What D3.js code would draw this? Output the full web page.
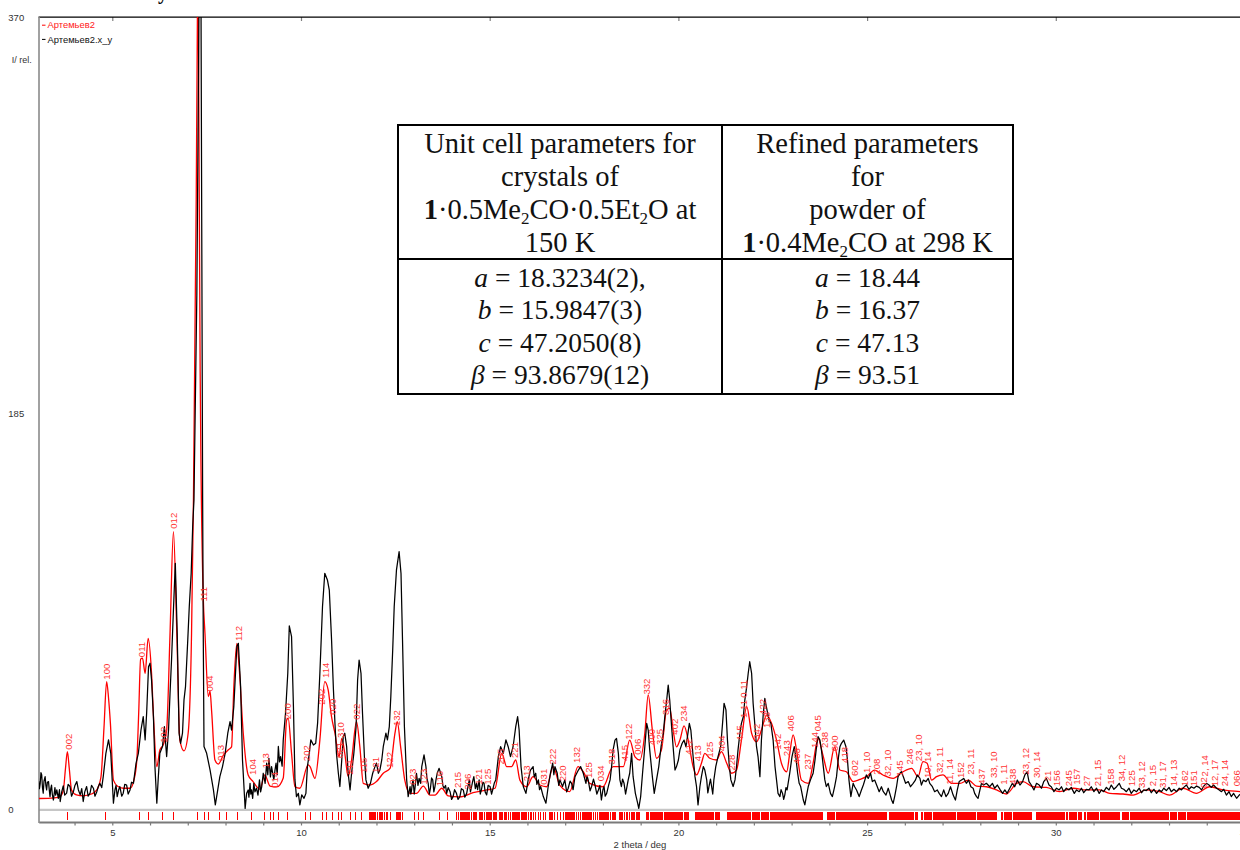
<!DOCTYPE html>
<html lang="ru">
<head>
<meta charset="utf-8">
<title>Артемьев2</title>
<script src="https://cdn.jsdelivr.net/npm/d3@7/dist/d3.min.js"></script>
<style>
  html, body { margin: 0; padding: 0; background: #fff; }
  svg { display: block; }
  text { font-family: "Liberation Sans", Arial, sans-serif; }
  .tbl text { font-family: "Liberation Serif", "Times New Roman", serif; }
</style>
</head>
<body>
<svg id="chart" width="1240" height="850"></svg>
<script>
// ---- pattern data: [2theta (deg), intensity (rel.)] ----
const seriesNames = ["Артемьев2", "Артемьев2.x_y"];

// calculated profile
const calcPattern = [[3.05,4.9],[3.3,5.0],[3.6,5.6],[3.70,8.5],[3.76,19],[3.81,26.8],[3.86,19],[3.92,8.9],[4.05,6.6],[4.23,6.2],[4.45,7.0],[4.59,8.9],[4.70,15],[4.78,38],[4.85,59.5],[4.90,52],[4.95,40],[5.03,13.5],[5.15,10.5],[5.29,9.7],[5.47,9.7],[5.58,14],[5.65,22.9],[5.70,45],[5.75,70],[5.80,70.5],[5.87,63.4],[5.95,79.7],[6.04,63.4],[6.10,40],[6.18,19.8],[6.26,27.6],[6.35,30],[6.44,36.9],[6.53,82],[6.62,129.6],[6.71,82],[6.79,32.2],[6.90,27.2],[7.01,35.4],[7.10,82],[7.15,144],[7.21,260],[7.255,370],[7.265,560],[7.28,370],[7.34,180],[7.41,99],[7.456,82],[7.544,52.5],[7.59,55],[7.633,45.5],[7.72,22.9],[7.81,21],[7.94,25],[8.07,27.6],[8.16,29],[8.22,57],[8.30,77.4],[8.36,66.5],[8.47,35.4],[8.60,15.9],[8.73,12.8],[8.91,9.3],[9.04,15.9],[9.18,10.7],[9.36,10.3],[9.53,14.5],[9.62,41.6],[9.66,42.4],[9.75,26],[9.84,10.4],[9.97,9.7],[10.19,20.6],[10.24,19.8],[10.37,14.3],[10.50,32.2],[10.63,59.5],[10.72,55.6],[10.81,43],[10.90,35.4],[11.01,24.4],[11.08,33],[11.16,26],[11.25,15.1],[11.34,22.9],[11.47,40.8],[11.56,29],[11.65,12],[11.83,11.2],[12.0,12.8],[12.18,16.7],[12.36,19],[12.49,35.4],[12.55,40.8],[12.64,29],[12.75,13.5],[12.89,7.3],[13.06,7.3],[13.24,10.7],[13.42,6.5],[13.55,6.5],[13.73,9.7],[13.90,6.1],[14.21,5.7],[14.56,7.6],[14.92,8.9],[15.14,9.7],[15.32,26],[15.45,19.8],[15.58,19.8],[15.69,22.9],[15.80,13.5],[15.98,10.4],[16.15,15.1],[16.33,11.2],[16.51,10.4],[16.68,19.8],[16.86,11],[17.12,8.1],[17.34,19.8],[17.48,17.4],[17.65,12],[18.0,10.4],[18.27,19.8],[18.54,19.8],[18.71,32.2],[18.85,24.4],[18.98,22.9],[19.11,35.4],[19.20,53.3],[19.31,36.9],[19.42,23.7],[19.55,27.6],[19.69,46.3],[19.77,47],[19.86,36.9],[19.95,29],[20.04,32.2],[20.15,38.8],[20.26,32.2],[20.39,19.8],[20.48,15.9],[20.61,21.4],[20.70,26],[20.83,23.7],[21.01,22.9],[21.14,26.8],[21.28,21.4],[21.41,16.7],[21.54,18.2],[21.67,32.2],[21.81,47.8],[21.94,35.4],[22.07,31.4],[22.20,36.9],[22.34,43.9],[22.47,40],[22.60,32.2],[22.73,21.4],[22.87,17.4],[22.95,26],[23.04,34.6],[23.13,27.6],[23.26,13.5],[23.44,12],[23.57,21.4],[23.70,33],[23.83,25.2],[23.97,16.7],[24.14,29],[24.28,18.2],[24.45,17.4],[24.63,12.8],[24.81,13.8],[24.98,15.1],[25.20,18.2],[25.42,15.9],[25.69,14.3],[25.95,17.4],[26.18,19],[26.35,15.1],[26.48,22.1],[26.59,21.4],[26.71,13.5],[26.84,15.1],[27.01,15.9],[27.24,12],[27.46,12],[27.68,13.5],[27.90,10.7],[28.16,10.4],[28.43,8.9],[28.69,7],[28.96,12],[29.13,12.8],[29.40,10.4],[29.75,10.1],[30.10,8.1],[30.46,9.7],[30.81,8.9],[31.16,8.9],[31.43,7.3],[31.78,7],[32.05,6.5],[32.40,8.9],[32.75,8.1],[33.01,6.5],[33.37,9.7],[33.72,7.3],[34.08,10.4],[34.43,8.9],[35.0,8]];

// measured profile
const obsPattern = [[3.05,13],[3.07,9.5],[3.09,12],[3.11,17],[3.13,15.9],[3.15,10],[3.17,7.4],[3.19,13],[3.22,15.1],[3.24,11],[3.26,8.9],[3.28,12.5],[3.31,12.8],[3.33,9],[3.35,5.8],[3.37,9.5],[3.39,11.2],[3.41,7],[3.44,4.2],[3.48,10],[3.50,6.5],[3.53,8.9],[3.57,5],[3.60,9],[3.62,3.5],[3.66,8],[3.70,10.8],[3.74,6.5],[3.79,7.4],[3.83,11.5],[3.88,10.5],[3.92,6],[3.97,8.1],[4.01,11],[4.06,12.8],[4.10,9],[4.15,6.6],[4.19,9.5],[4.23,3.5],[4.27,8],[4.32,10.5],[4.36,6],[4.41,7.4],[4.45,11],[4.50,9.7],[4.54,6],[4.59,8.1],[4.63,10.5],[4.67,12],[4.72,10],[4.76,15.1],[4.83,26],[4.90,32.3],[4.96,26],[5.03,2.7],[5.07,8.9],[5.10,11],[5.13,5.8],[5.17,9],[5.20,10.5],[5.25,6],[5.29,7.4],[5.33,11.5],[5.38,11.2],[5.42,7],[5.47,8.9],[5.51,12.5],[5.56,12],[5.63,21.4],[5.69,26],[5.76,36.9],[5.82,43.2],[5.87,32.3],[5.91,44.7],[5.96,66.5],[6.00,68.1],[6.04,60.3],[6.09,43.2],[6.13,19.8],[6.18,2.7],[6.22,15.1],[6.26,26],[6.33,29.2],[6.38,38.5],[6.44,24.5],[6.49,36.9],[6.53,54.1],[6.57,69.7],[6.62,93],[6.67,114.8],[6.72,82.1],[6.77,35.4],[6.81,30.7],[6.86,35.4],[6.90,51],[6.94,57.2],[7.00,79],[7.04,94.6],[7.09,110.1],[7.13,131.9],[7.164,144.4],[7.24,240],[7.30,380],[7.325,600],[7.35,380],[7.394,144.4],[7.41,82.1],[7.43,29.2],[7.50,26],[7.59,18.3],[7.68,8.9],[7.73,1.9],[7.78,7.4],[7.85,15.1],[7.92,19.8],[7.99,26],[8.06,35.4],[8.12,40.8],[8.16,36.9],[8.22,47.8],[8.30,75.9],[8.34,77.4],[8.40,57.2],[8.45,22.9],[8.52,0.3],[8.56,7.4],[8.60,8.9],[8.62,5.5],[8.65,12],[8.67,7],[8.69,8.9],[8.72,5],[8.75,12],[8.78,8],[8.82,9.7],[8.86,6.5],[8.90,13.6],[8.93,8],[8.96,10.5],[9.00,16.7],[9.05,12],[9.09,21.4],[9.12,16],[9.15,23.7],[9.19,15],[9.22,19.8],[9.28,13.6],[9.31,18],[9.34,21.4],[9.37,16],[9.40,29.2],[9.43,22],[9.46,24.5],[9.50,20],[9.53,32.3],[9.59,44.7],[9.65,63.4],[9.69,85.5],[9.75,80.5],[9.80,47.8],[9.84,13.6],[9.88,5.8],[9.93,7.3],[9.97,1.9],[10.02,6.6],[10.08,5.0],[10.13,7.3],[10.17,19.8],[10.22,26],[10.26,32.3],[10.33,29.9],[10.39,30.7],[10.44,40.1],[10.50,63.4],[10.57,94.6],[10.63,110.1],[10.70,107],[10.75,102.3],[10.81,79],[10.86,55.6],[10.90,40.1],[10.94,26],[10.99,16.7],[11.03,10.5],[11.08,22.9],[11.12,33.8],[11.16,35.4],[11.21,29.1],[11.25,16.7],[11.30,8.9],[11.34,16.7],[11.40,26],[11.46,38.5],[11.50,60.3],[11.54,69.6],[11.59,63.4],[11.63,44.7],[11.68,24.5],[11.72,13.6],[11.78,9.7],[11.84,12],[11.90,16.7],[11.96,19.8],[12.00,21.4],[12.05,16.7],[12.09,18.2],[12.14,22.9],[12.18,29.1],[12.25,35.4],[12.29,32.3],[12.34,38.5],[12.38,52.5],[12.43,74.3],[12.47,94.6],[12.53,111.7],[12.60,120.2],[12.65,110.1],[12.69,79],[12.74,38.5],[12.80,13.6],[12.84,5.8],[12.89,10.5],[12.91,7],[12.93,8.9],[12.95,12],[12.97,13.6],[13.00,7],[13.02,9.7],[13.06,16.7],[13.10,11],[13.13,14.3],[13.17,12],[13.20,19.8],[13.26,25.3],[13.31,19.8],[13.34,14],[13.37,12],[13.40,7],[13.43,9.7],[13.46,14.5],[13.49,13.6],[13.52,8],[13.55,10.5],[13.58,14],[13.61,16.7],[13.66,19],[13.73,15.1],[13.76,11],[13.79,9.7],[13.83,11],[13.86,7.3],[13.90,10],[13.95,8.1],[13.99,4.5],[14.03,5.8],[14.07,9],[14.12,7.3],[14.16,4.5],[14.21,5.8],[14.25,9.5],[14.30,8.9],[14.34,5.5],[14.39,7.3],[14.43,11],[14.46,13.6],[14.49,8],[14.52,10.5],[14.55,13],[14.58,15.1],[14.62,9.5],[14.65,12],[14.68,9],[14.72,13.6],[14.75,7],[14.78,8.9],[14.82,12.5],[14.85,12],[14.88,8],[14.92,6.6],[14.96,11],[15.01,10.5],[15.05,7],[15.09,9.7],[15.12,12],[15.16,13.6],[15.23,24.5],[15.29,29.1],[15.36,26],[15.43,32.3],[15.49,29.1],[15.55,24.5],[15.62,29.1],[15.69,38.5],[15.74,43.2],[15.78,36.9],[15.83,19.8],[15.89,10.5],[15.96,7.3],[16.02,13.6],[16.08,18.2],[16.15,19.8],[16.18,15],[16.22,16.7],[16.25,11.5],[16.29,13.6],[16.32,9],[16.35,10.5],[16.42,5.8],[16.49,2.7],[16.55,10.5],[16.61,16.7],[16.67,21.4],[16.70,16],[16.73,19.8],[16.79,16.7],[16.83,11],[16.86,13.6],[16.93,10.5],[16.99,13.6],[17.04,8],[17.08,9.7],[17.13,13],[17.17,12],[17.21,9],[17.26,15.1],[17.35,18.2],[17.41,19.8],[17.48,16.7],[17.55,12],[17.58,15.5],[17.61,13.6],[17.66,8.5],[17.70,10.5],[17.75,14],[17.79,11.2],[17.84,7],[17.88,8.9],[17.92,11],[17.96,4.2],[18.00,9],[18.03,10.5],[18.06,6],[18.10,7.3],[18.15,11],[18.19,13.6],[18.23,19.8],[18.27,27.6],[18.32,32.2],[18.36,33],[18.41,26],[18.45,13.6],[18.49,10.5],[18.52,14],[18.56,12],[18.60,7],[18.63,9.7],[18.67,13.6],[18.71,16.7],[18.76,26],[18.80,15.1],[18.86,7.3],[18.92,2.7],[18.95,0.3],[19.00,5.8],[19.05,16.7],[19.11,29.1],[19.16,40],[19.20,36.9],[19.24,27.6],[19.31,15.1],[19.36,7.3],[19.42,13.6],[19.48,19.8],[19.54,29.1],[19.60,35.4],[19.64,43.1],[19.69,50.9],[19.73,57.9],[19.77,50.9],[19.82,38.5],[19.86,29.1],[19.91,18.2],[19.95,19.8],[20.00,22.9],[20.04,27.6],[20.10,30.7],[20.15,32.2],[20.20,29.1],[20.24,33.8],[20.29,40],[20.33,36.9],[20.39,24.5],[20.44,15.1],[20.48,10.5],[20.52,1.9],[20.57,10.5],[20.61,15.1],[20.66,19.8],[20.70,18.2],[20.75,13.6],[20.78,7.5],[20.81,10.5],[20.85,14],[20.88,10.5],[20.91,7],[20.94,13.6],[20.99,19.8],[21.05,24.5],[21.12,29.1],[21.17,40],[21.21,49.4],[21.26,46.3],[21.30,32.2],[21.35,19.8],[21.39,13.6],[21.45,10.5],[21.50,13.6],[21.54,19.8],[21.58,27.6],[21.63,35.4],[21.67,40],[21.72,43.1],[21.76,50.9],[21.81,57.2],[21.85,63.4],[21.89,68.8],[21.94,63.4],[21.98,49.4],[22.03,38.5],[22.07,29.1],[22.11,24.5],[22.16,15.1],[22.20,32.2],[22.25,44.7],[22.29,51.7],[22.33,47.8],[22.40,41.6],[22.45,40],[22.51,32.2],[22.56,19.8],[22.60,13.6],[22.64,7.3],[22.69,5.8],[22.72,9],[22.76,7.3],[22.79,4.5],[22.82,6.6],[22.85,10],[22.88,8.9],[22.95,16.7],[23.01,24.5],[23.07,29.1],[23.11,24.5],[23.16,16.7],[23.20,12],[23.24,10.5],[23.31,4.2],[23.35,1.9],[23.39,5.8],[23.44,10.5],[23.50,13.6],[23.57,16.7],[23.62,22.9],[23.66,29.1],[23.70,33.8],[23.75,32.2],[23.79,27.6],[23.84,19.8],[23.88,13.6],[23.92,10.5],[23.97,12],[24.03,7.3],[24.08,5.8],[24.14,10.5],[24.19,15.1],[24.24,24],[24.28,29.1],[24.32,30.7],[24.38,32.2],[24.44,29.1],[24.48,22.9],[24.52,13.5],[24.57,5.8],[24.63,12],[24.67,10.4],[24.72,8.9],[24.79,5.8],[24.85,8.9],[24.90,11.2],[24.94,13.5],[24.98,15.9],[25.03,14.3],[25.09,16.7],[25.14,12.8],[25.20,13.5],[25.27,10.4],[25.32,8.1],[25.38,10.4],[25.43,8.1],[25.50,6.5],[25.56,9.7],[25.60,7.3],[25.65,4.2],[25.69,2.6],[25.73,5.8],[25.78,10.4],[25.82,15.1],[25.87,16.7],[25.91,17.4],[25.96,15.1],[26.02,12],[26.09,12.8],[26.15,10.4],[26.22,12],[26.28,13.5],[26.33,15.9],[26.40,14.3],[26.44,11.2],[26.49,13.5],[26.56,12.8],[26.62,14.3],[26.66,12],[26.73,10.4],[26.79,8.1],[26.86,8.9],[26.91,7.3],[26.97,5.8],[27.03,8.9],[27.09,5.8],[27.15,7.3],[27.21,10.4],[27.28,6.5],[27.34,4.2],[27.39,8.9],[27.44,12.8],[27.50,13.5],[27.56,14.3],[27.63,12],[27.69,13.5],[27.75,10.4],[27.81,9.7],[27.85,7.3],[27.90,5.8],[27.94,5],[27.99,8.9],[28.03,12],[28.09,11.2],[28.16,12],[28.25,10.4],[28.32,12],[28.38,9.7],[28.45,11.2],[28.52,9.2],[28.59,7.3],[28.65,8.9],[28.71,7.3],[28.78,9.7],[28.85,12],[28.91,10.4],[28.98,13.5],[29.05,11.2],[29.12,12.8],[29.18,15.9],[29.24,17.4],[29.29,12.8],[29.35,11.2],[29.42,8.9],[29.49,12],[29.56,11.2],[29.62,9.7],[29.68,12.8],[29.75,14.3],[29.82,11.2],[29.88,10.4],[29.95,8.1],[30.02,9.7],[30.09,8.9],[30.15,10.4],[30.21,8.1],[30.28,9.7],[30.35,8.9],[30.41,10.1],[30.49,7.3],[30.55,8.9],[30.62,8.1],[30.68,9.7],[30.74,7.6],[30.81,9.2],[30.88,8.9],[30.94,10.4],[31.01,8.1],[31.08,9.7],[31.15,7.3],[31.21,8.9],[31.27,8.1],[31.34,10.1],[31.41,8.9],[31.47,11.2],[31.54,9.2],[31.61,10.4],[31.68,12],[31.74,9.7],[31.80,9.2],[31.87,8.1],[31.94,9.7],[32.00,7.3],[32.07,8.9],[32.14,8.1],[32.21,9.7],[32.27,7.6],[32.33,8.9],[32.40,8.6],[32.47,9.7],[32.53,7.6],[32.60,9.2],[32.67,7.3],[32.74,8.9],[32.80,8.1],[32.86,9.7],[32.93,8.6],[33.00,10.1],[33.06,8.1],[33.13,9.2],[33.20,8.1],[33.27,9.7],[33.33,8.9],[33.39,10.1],[33.46,11.2],[33.53,9.2],[33.59,10.4],[33.66,9.7],[33.73,10.7],[33.80,10.1],[33.86,8.9],[33.92,10.7],[33.99,12],[34.06,11.2],[34.12,10.1],[34.18,11.2],[34.26,9.7],[34.33,8.9],[34.39,8.1],[34.45,9.2],[34.52,6.5],[34.59,8.1],[34.65,5.8],[34.71,7.3],[34.79,5],[34.86,6.5],[34.95,7.5]];

// reflection positions (2theta, deg)
const reflections = [3.82,4.83,5.73,5.95,6.32,6.62,7.26,7.43,7.56,7.85,8.03,8.31,8.69,9.02,9.20,9.28,9.41,9.64,10.13,10.24,10.56,10.68,10.83,10.99,11.08,11.30,11.45,11.61,11.83,11.88,11.93,11.97,12.03,12.09,12.14,12.21,12.27,12.36,12.54,12.58,12.63,12.70,13.02,13.11,13.24,13.68,13.87,
14.12,14.17,14.23,14.27,14.31,14.37,14.42,14.46,14.52,14.58,14.63,14.75,14.80,14.86,14.93,14.99,15.04,15.11,15.17,
15.28,15.33,15.39,15.44,15.50,15.55,15.62,15.67,15.73,15.78,15.85,15.91,15.97,16.03,16.09,16.16,16.21,16.29,16.35,16.42,16.49,
16.60,16.66,16.73,16.80,16.87,16.95,17.02,17.08,17.13,17.18,17.24,17.30,17.35,17.41,17.47,17.52,17.58,17.63,17.69,17.75,17.80,17.86,17.92,17.97,18.03,18.09,18.14,18.20,18.26,18.32,
18.46,18.51,18.57,18.63,18.70,18.77,18.83,18.90,18.96,19.17,19.21,19.26,19.30,19.35,19.39,19.44,19.49,19.53,19.58,19.63,19.67,19.72,19.77,19.81,19.86,19.91,19.96,20.01,20.06,20.11,20.16,20.21,20.26,
20.45,20.50,20.55,20.60,20.65,20.70,20.76,20.81,20.87,20.92,20.98,21.03,21.08,
21.32,21.35,21.40,21.43,21.48,21.52,21.55,21.60,21.64,21.67,21.72,21.76,21.79,21.84,21.88,21.91,21.96,22.00,22.03,22.08,22.12,22.15,22.20,22.24,22.27,22.32,22.36,22.39,22.44,22.48,22.51,22.56,22.60,22.63,22.68,22.72,22.75,22.80,22.84,22.87,22.92,22.96,22.99,23.04,23.08,23.11,23.16,23.20,23.23,23.28,23.32,23.35,23.40,23.44,23.47,23.52,23.56,23.59,23.64,23.68,23.72,23.77,23.80,
23.95,23.99,24.02,24.07,24.11,24.14,24.19,24.23,24.26,24.31,24.35,24.38,24.43,24.47,24.50,24.55,24.59,24.62,24.67,24.71,24.74,24.79,24.83,24.86,24.91,24.95,24.98,25.03,25.07,25.10,25.15,25.19,25.22,25.27,25.31,25.34,25.39,25.43,25.46,25.51,
25.60,25.63,25.68,25.72,25.75,25.80,25.84,25.87,25.92,25.96,25.99,26.04,26.08,26.11,26.16,26.20,26.23,26.28,26.33,
26.44,26.47,26.52,26.56,26.59,26.64,26.68,26.71,26.76,26.80,26.83,26.88,26.92,26.95,27.00,27.04,27.07,27.12,27.16,27.19,27.24,27.28,27.32,
27.41,27.44,27.49,27.53,27.56,27.61,27.65,27.68,27.73,27.77,27.80,27.85,27.94,27.97,28.02,28.06,28.09,28.14,28.18,28.21,28.26,28.30,28.33,28.38,28.42,
28.56,28.59,28.64,28.68,28.71,28.76,28.80,28.83,28.88,28.92,28.95,29.00,29.04,29.07,29.12,29.16,29.19,29.24,29.28,29.31,29.36,
29.49,29.52,29.57,29.61,29.64,29.69,29.73,29.76,29.81,29.85,29.88,29.93,29.97,30.00,30.05,30.09,30.12,30.17,30.21,
30.28,30.31,30.36,30.40,30.43,30.48,30.52,30.55,30.60,30.64,30.68,30.76,30.79,30.84,30.88,30.91,30.96,31.00,31.03,31.08,31.12,
31.20,31.23,31.28,31.32,31.35,31.40,31.44,31.47,31.52,31.56,31.59,31.64,31.68,
31.78,31.81,31.86,31.90,31.93,31.98,32.02,32.05,32.10,32.14,32.17,32.22,32.26,32.29,32.34,32.38,32.41,32.46,32.50,32.53,32.58,32.62,32.65,32.70,32.74,32.77,32.82,32.86,32.89,32.94,32.98,
33.05,33.08,33.13,33.17,33.20,33.25,33.29,33.32,33.37,33.41,33.44,33.49,33.53,33.56,33.61,33.65,33.68,33.73,33.77,33.80,33.85,33.89,33.92,33.97,34.01,34.04,34.09,34.13,34.16,34.21,34.25,34.28,34.33,34.37,34.40,34.45,34.49,34.52,34.57,34.61,34.64,34.69,34.73,34.76,34.81,34.85,34.88,34.93];

// hkl labels: [text, 2theta, intensity at label foot]
const peakLabels = [["002",3.84,26.8],["100",4.85,59.5],["011",5.78,70],["102",6.35,30],["012",6.62,130],["111",7.43,96],["004",7.59,54],["013",7.87,21.5],["112",8.34,77.5],["104",8.72,15],["113",9.05,18],["014",9.31,9],["200",9.65,41],["202",10.15,21.4],["202",10.55,47.8],["114",10.66,60.3],["020",10.84,43.1],["021",11.01,22.9],["310",11.06,32.2],["211",11.30,15.1],["022",11.47,40.8],["115",11.65,15.9],["121",11.99,15.9],["122",12.36,18.2],["132",12.53,37.8],["023",12.97,10.4],["123",13.26,10.4],["116",13.68,9.7],["215",14.15,8.9],["206",14.41,8.1],["121",14.71,10.4],["125",14.95,10.4],["205",15.29,19.8],["221",15.67,22.9],["213",15.98,12],["031",16.42,10.4],["222",16.68,19.8],["220",16.94,12],["132",17.31,20.6],["125",17.61,13.5],["034",17.94,12],["318",18.23,19.8],["415",18.58,21.5],["122",18.67,31.4],["006",18.91,24.4],["332",19.17,52.5],["400",19.29,29],["325",19.51,29],["316",19.67,43],["402",19.91,33.8],["234",20.15,40],["412",20.26,24.4],["413",20.52,21.4],["125",20.83,23],["404",21.14,26],["228",21.41,17],["415",21.63,30.7],["1 11",21.72,41.6],["0 11",21.74,51],["342",22.07,31.4],["422",22.23,43],["138",22.34,36.9],["142",22.64,26.8],["243",22.87,23.7],["406",22.98,35.4],["433",23.12,20],["237",23.42,17.4],["144",23.62,27.6],["045",23.70,35.4],["238",23.88,27.6],["600",24.14,26],["418",24.41,20.6],["602",24.67,14.5],["1, 10",24.98,15.9],["208",25.24,15.1],["32, 10",25.55,14.3],["145",25.85,14.3],["246",26.12,19.8],["23, 10",26.37,21.4],["10, 14",26.59,13.5],["32, 11",26.91,15.9],["11, 14",27.19,10.4],["152",27.48,13.5],["23, 11",27.75,15.1],["437",28.04,10.4],["33, 10",28.35,13.5],["1, 11",28.61,10.4],["438",28.86,10.4],["23, 12",29.19,15.1],["30, 14",29.50,13.5],["21",29.77,12],["156",30.03,9.7],["245",30.33,9.7],["157",30.56,10.4],["27",30.81,9.7],["21, 15",31.12,9.7],["158",31.45,10.4],["34, 12",31.74,12],["125",32.01,9.7],["33, 12",32.27,8.9],["2, 15",32.56,9.7],["31, 17",32.83,8.9],["14, 13",33.11,9.7],["162",33.40,9.7],["151",33.66,9.7],["02",33.91,8.9],["2, 14",33.93,14.3],["12, 17",34.21,9.7],["24, 14",34.48,9.7],["066",34.79,9.7]];

const xTickLabels = [5, 10, 15, 20, 25, 30, 35];
const yTickLabels = [0, 185, 370];
const xAxisTitle = "2 theta /  deg";
const yAxisTitle = "I/ rel.";

// inset table: each line is a list of runs {t, b: bold, i: italic, s: subscript}
const tableHeadLeft = [
  [{t: "Unit cell parameters for"}],
  [{t: "crystals of"}],
  [{t: "1", b: 1}, {t: "·0.5Me"}, {t: "2", s: 1}, {t: "CO·0.5Et"}, {t: "2", s: 1}, {t: "O at"}],
  [{t: "150 K"}]
];
const tableHeadRight = [
  [{t: "Refined parameters"}],
  [{t: "for"}],
  [{t: "powder of"}],
  [{t: "1", b: 1}, {t: "·0.4Me"}, {t: "2", s: 1}, {t: "CO at 298 K"}]
];
const tableBodyLeft = [
  [{t: "a", i: 1}, {t: " = 18.3234(2),"}],
  [{t: "b", i: 1}, {t: " = 15.9847(3)"}],
  [{t: "c", i: 1}, {t: " = 47.2050(8)"}],
  [{t: "β", i: 1}, {t: " = 93.8679(12)"}]
];
const tableBodyRight = [
  [{t: "a", i: 1}, {t: " = 18.44"}],
  [{t: "b", i: 1}, {t: " = 16.37"}],
  [{t: "c", i: 1}, {t: " = 47.13"}],
  [{t: "β", i: 1}, {t: " = 93.51"}]
];

// ---- drawing ----
const svg = d3.select("#chart");
const x = d3.scaleLinear().domain([3.05, 35]).range([38.7, 1244.5]);
const y = d3.scaleLinear().domain([0, 370]).range([809, 17]);

const defs = svg.append("defs");
defs.append("clipPath").attr("id", "plotClip")
  .append("rect").attr("x", 39).attr("y", 17).attr("width", 1210).attr("height", 793);

// cut-off heading fragment above the frame
svg.append("text").attr("x", 158).attr("y", -1)
  .style("font-family", "'Liberation Serif', serif").style("font-weight", "bold")
  .style("font-size", "20px").attr("fill", "#000").text("y");

// baseline band and reflection bars
svg.append("line").attr("x1", 39).attr("x2", 1240).attr("y1", 809.8).attr("y2", 809.8)
  .attr("stroke", "#c6c6c6").attr("stroke-width", 2.3);

// bars in crowded stretches are drawn a little wider so they merge as a band
const nearestGap = reflections.map((r, i) => Math.min(
  i > 0 ? r - reflections[i - 1] : 1,
  i < reflections.length - 1 ? reflections[i + 1] - r : 1));
svg.append("g").attr("shape-rendering", "crispEdges")
  .selectAll("line").data(reflections).join("line")
  .attr("x1", d => x(d)).attr("x2", d => x(d))
  .attr("y1", 811.5).attr("y2", 819.5)
  .attr("stroke", "#ff0000")
  .attr("stroke-width", (d, i) => nearestGap[i] < 0.065 ? 1.7 : 1);

// x axis
const xAxis = d3.axisBottom(x)
  .tickValues(d3.range(4, 36))
  .tickSize(3.5).tickSizeOuter(0).tickPadding(3.5)
  .tickFormat(d => xTickLabels.includes(d) ? d : "");
const gx = svg.append("g").attr("transform", "translate(0,822)").call(xAxis);
gx.select(".domain").attr("stroke", "#7a7a7a").attr("stroke-width", 1.8);
gx.selectAll(".tick line").attr("stroke", "#7a7a7a").attr("stroke-width", 1.2);
gx.selectAll(".tick text").attr("fill", "#333").style("font-size", "9.5px")
  .style("font-family", "'Liberation Sans', Arial, sans-serif");

svg.append("text").attr("x", 640).attr("y", 847.5).attr("text-anchor", "middle")
  .attr("fill", "#333").style("font-size", "9.5px").text(xAxisTitle);

// top frame with major ticks
const xTop = d3.axisTop(x).tickValues(xTickLabels).tickSize(-4).tickSizeOuter(0).tickFormat("");
const gt = svg.append("g").attr("transform", "translate(0,17)").call(xTop);
gt.select(".domain").remove();
gt.selectAll(".tick line").attr("stroke", "#808080").attr("stroke-width", 1.2);
svg.append("line").attr("x1", 38.5).attr("x2", 1240).attr("y1", 17.2).attr("y2", 17.2)
  .attr("stroke", "#000").attr("stroke-width", 1.3);

// y axis
const yAxis = d3.axisLeft(y).tickValues(yTickLabels).tickSize(0).tickPadding(0);
const gy = svg.append("g").attr("transform", "translate(39,0)").call(yAxis);
gy.select(".domain").remove();
gy.selectAll(".tick text").attr("x", 8.3 - 39).attr("text-anchor", "start").attr("dy", "0.37em")
  .attr("fill", "#333").style("font-size", "9.5px")
  .style("font-family", "'Liberation Sans', Arial, sans-serif");
svg.append("line").attr("x1", 39).attr("x2", 39).attr("y1", 17).attr("y2", 823)
  .attr("stroke", "#8a8a8a").attr("stroke-width", 1.6);
svg.append("text").attr("x", 11.7).attr("y", 63.3).attr("fill", "#333")
  .style("font-size", "9px").text(yAxisTitle);

// profiles
const plot = svg.append("g").attr("clip-path", "url(#plotClip)");
const lineCalc = d3.line().x(d => x(d[0])).y(d => y(d[1])).curve(d3.curveMonotoneX);
const lineObs = d3.line().x(d => x(d[0])).y(d => y(d[1]));
plot.append("path").datum(calcPattern).attr("d", lineCalc)
  .attr("fill", "none").attr("stroke", "#ff0000").attr("stroke-width", 1.3);
plot.append("path").datum(obsPattern).attr("d", lineObs)
  .attr("fill", "none").attr("stroke", "#000").attr("stroke-width", 1.25)
  .attr("stroke-linejoin", "round");

// hkl labels
svg.append("g").selectAll("text").data(peakLabels).join("text")
  .attr("transform", d => `translate(${x(d[1]) + 3.4},${y(d[2]) - 2}) rotate(-90)`)
  .attr("text-anchor", "start").attr("fill", "#ff3535")
  .style("font-size", "9.6px").text(d => d[0]);

// legend
const legendColors = ["#ff0000", "#000000"];
const lg = svg.append("g").selectAll("g").data(seriesNames).join("g")
  .attr("transform", (d, i) => `translate(0,${28.4 + i * 14.2})`);
lg.append("line").attr("x1", 42).attr("x2", 45.5).attr("y1", -3.2).attr("y2", -3.2)
  .attr("stroke", (d, i) => legendColors[i]).attr("stroke-width", 1);
lg.append("text").attr("x", 47.5).attr("y", 0)
  .attr("fill", (d, i) => i === 0 ? "#ff2020" : "#111")
  .style("font-size", "9.4px").text(d => d);

// inset parameter table
const tbl = svg.append("g").attr("class", "tbl");
const box = {l: 398, t: 125, r: 1013, mid: 722, split: 259};
tbl.append("rect").attr("x", box.l).attr("y", box.t)
  .attr("width", box.r - box.l).attr("height", 394 - box.t)
  .attr("fill", "#fff").attr("stroke", "#000").attr("stroke-width", 2);
tbl.append("line").attr("x1", box.mid).attr("x2", box.mid).attr("y1", box.t).attr("y2", 394)
  .attr("stroke", "#000").attr("stroke-width", 2);
tbl.append("line").attr("x1", box.l).attr("x2", box.r).attr("y1", box.split).attr("y2", box.split)
  .attr("stroke", "#000").attr("stroke-width", 2);

function writeLines(lines, cx, baselines, size) {
  lines.forEach((runs, k) => {
    const t = tbl.append("text").attr("x", cx).attr("y", baselines[k])
      .attr("text-anchor", "middle").attr("fill", "#111").style("font-size", size + "px");
    let low = false;
    runs.forEach(r => {
      const ts = t.append("tspan").text(r.t);
      if (r.b) ts.attr("font-weight", "bold");
      if (r.i) ts.attr("font-style", "italic");
      if (r.s) { ts.attr("dy", 5).style("font-size", "17px"); low = true; }
      else if (low) { ts.attr("dy", -5); low = false; }
    });
  });
}
const headBase = [153, 186, 219, 252];
const bodyBase = [286.5, 319, 351.5, 384];
writeLines(tableHeadLeft, (box.l + box.mid) / 2, headBase, 28.5);
writeLines(tableHeadRight, (box.mid + box.r) / 2, headBase, 28.5);
writeLines(tableBodyLeft, (box.l + box.mid) / 2, bodyBase, 27.5);
writeLines(tableBodyRight, (box.mid + box.r) / 2, bodyBase, 27.5);
</script>
</body>
</html>
